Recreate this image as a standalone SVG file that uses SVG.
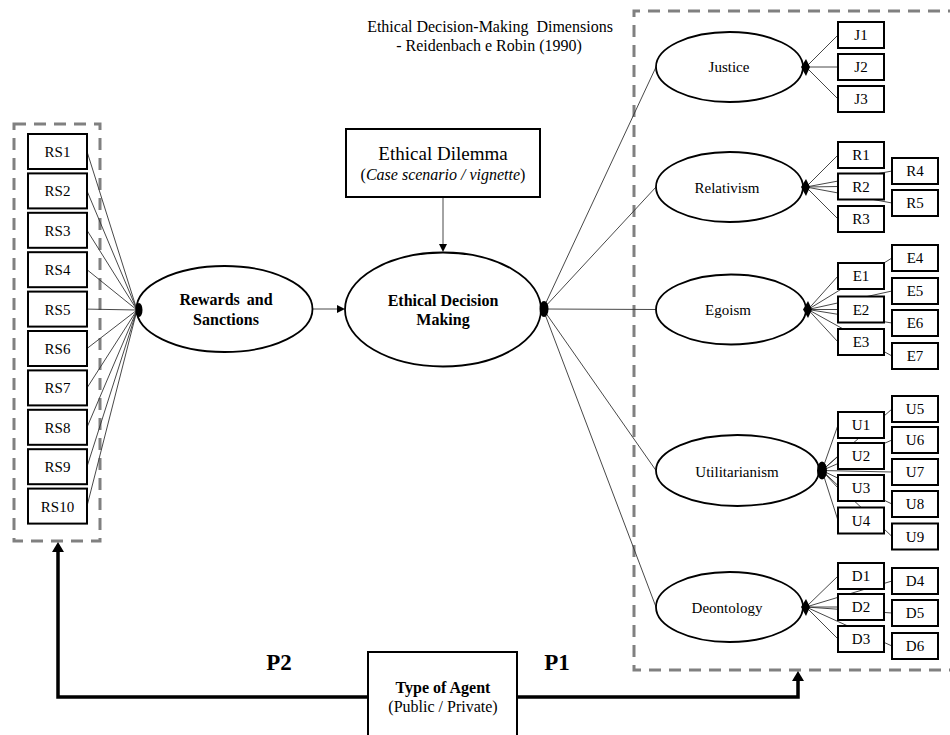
<svg xmlns="http://www.w3.org/2000/svg" width="950" height="735" viewBox="0 0 950 735" font-family="Liberation Serif, Tinos, Times New Roman, DejaVu Serif, serif">
<defs>
<style>
text{fill:#000}
.box{fill:#fff;stroke:#000;stroke-width:2}
.ell{fill:#fff;stroke:#000;stroke-width:1.8}
.thin{fill:none;stroke:#333;stroke-width:0.9}
.dash{fill:none;stroke:#808080;stroke-width:3;stroke-dasharray:12 8}
.thick{fill:none;stroke:#000;stroke-width:3.5}
.lbl{font-size:15px;text-anchor:middle}
.bl{font-size:16px;font-weight:bold;text-anchor:middle}
.dot{fill:#000}
</style>
<marker id="arr" viewBox="0 -4 8 8" refX="0" refY="0" markerWidth="8" markerHeight="8" markerUnits="userSpaceOnUse" orient="auto"><path d="M0,-4 L8,0 L0,4 z" fill="#000"/></marker>
<marker id="arrB" viewBox="0 -6 10 12" refX="0" refY="0" markerWidth="10" markerHeight="12" markerUnits="userSpaceOnUse" orient="auto"><path d="M0,-6 L10,0 L0,6 z" fill="#000"/></marker>
</defs>
<rect width="950" height="735" fill="#fff"/>

<g id="groups">
<rect class="dash" x="14" y="124" width="86" height="417"/>
<path class="dash" d="M960,11 H634 V670 H960"/>
</g>

<g id="connectors">
<path class="thin" d="M87,151.5 L137,310 M87,190.9 L137,310 M87,230.3 L137,310 M87,269.7 L137,310 M87,309.1 L137,310 M87,348.5 L137,310 M87,387.9 L137,310 M87,427.3 L137,310 M87,466.7 L137,310 M87,506.1 L137,310"/>
<path class="thin" d="M543,309 L656,67 M543,309 L656,187 M543,309 L656,309.5 M543,309 L656,470.5 M543,309 L656,607"/>
<path class="thin" d="M806,67 L838,35 M806,67 L838,67 M806,67 L838,99"/>
<path class="thin" d="M806,187 L838,155 M806,187 L838,186.5 M806,187 L838,219 M806,187 L892,171 M806,187 L892,203"/>
<path class="thin" d="M808,309.5 L838,276 M808,309.5 L838,309.5 M808,309.5 L838,342 M808,309.5 L892,258 M808,309.5 L892,291 M808,309.5 L892,323 M808,309.5 L892,356"/>
<path class="thin" d="M822,470.5 L838,425 M822,470.5 L838,456 M822,470.5 L838,488 M822,470.5 L838,520.5 M822,470.5 L892,409 M822,470.5 L892,440 M822,470.5 L892,472 M822,470.5 L892,504 M822,470.5 L892,536.5"/>
<path class="thin" d="M806,607 L838,576 M806,607 L838,607 M806,607 L838,639 M806,607 L892,581 M806,607 L892,613 M806,607 L892,646"/>
<path class="thin" stroke="#000" d="M313,309 H337" marker-end="url(#arr)"/>
<path class="thin" stroke="#000" d="M443,197 V244" marker-end="url(#arr)"/>
<path class="thick" d="M368,697 H58 V552" marker-end="url(#arrB)"/>
<path class="thick" d="M517,697 H798 V681" marker-end="url(#arrB)"/>
</g>

<g id="title">
<text x="490" y="32" style="font-size:16px;text-anchor:middle" xml:space="preserve">Ethical Decision-Making  Dimensions</text>
<text x="489" y="51" style="font-size:16px;text-anchor:middle">- Reidenbach e Robin (1990)</text>
</g>

<g id="rs-items">
<g id="RS1"><rect class="box" x="28" y="134" width="59" height="35"/><text class="lbl" x="57.5" y="157">RS1</text></g>
<g id="RS2"><rect class="box" x="28" y="173.4" width="59" height="35"/><text class="lbl" x="57.5" y="196.4">RS2</text></g>
<g id="RS3"><rect class="box" x="28" y="212.8" width="59" height="35"/><text class="lbl" x="57.5" y="235.8">RS3</text></g>
<g id="RS4"><rect class="box" x="28" y="252.2" width="59" height="35"/><text class="lbl" x="57.5" y="275.2">RS4</text></g>
<g id="RS5"><rect class="box" x="28" y="291.6" width="59" height="35"/><text class="lbl" x="57.5" y="314.6">RS5</text></g>
<g id="RS6"><rect class="box" x="28" y="331" width="59" height="35"/><text class="lbl" x="57.5" y="354">RS6</text></g>
<g id="RS7"><rect class="box" x="28" y="370.4" width="59" height="35"/><text class="lbl" x="57.5" y="393.4">RS7</text></g>
<g id="RS8"><rect class="box" x="28" y="409.8" width="59" height="35"/><text class="lbl" x="57.5" y="432.8">RS8</text></g>
<g id="RS9"><rect class="box" x="28" y="449.2" width="59" height="35"/><text class="lbl" x="57.5" y="472.2">RS9</text></g>
<g id="RS10"><rect class="box" x="28" y="488.6" width="59" height="35"/><text class="lbl" x="57.5" y="511.6">RS10</text></g>
</g>

<g id="rewards">
<ellipse class="ell" cx="224.5" cy="309" rx="88" ry="43"/>
<ellipse class="dot" cx="139" cy="310" rx="3.5" ry="7"/>
<text class="bl" x="226" y="305" word-spacing="3">Rewards and</text>
<text class="bl" x="226" y="325">Sanctions</text>
</g>

<g id="dilemma">
<rect class="box" x="346" y="129" width="194" height="68"/>
<text x="443" y="160" style="font-size:19px;text-anchor:middle">Ethical Dilemma</text>
<text x="443" y="180" style="font-size:16px;text-anchor:middle">(<tspan font-style="italic">Case scenario / vignette</tspan>)</text>
</g>

<g id="edm">
<ellipse class="ell" cx="443" cy="309.5" rx="98" ry="57"/>
<ellipse class="dot" cx="544" cy="309" rx="4.5" ry="8"/>
<text class="bl" x="443" y="306">Ethical Decision</text>
<text class="bl" x="443" y="325">Making</text>
</g>

<g id="justice">
<ellipse class="ell" cx="729.5" cy="67" rx="73.5" ry="35"/>
<polygon class="dot" points="801,67 806,59 810,67 806,76"/>
<text class="lbl" x="729" y="72">Justice</text>
<g id="J1"><rect class="box" x="838" y="22" width="46" height="26"/><text class="lbl" x="861" y="40">J1</text></g>
<g id="J2"><rect class="box" x="838" y="54" width="46" height="26"/><text class="lbl" x="861" y="72">J2</text></g>
<g id="J3"><rect class="box" x="838" y="86" width="46" height="26"/><text class="lbl" x="861" y="104">J3</text></g>
</g>

<g id="relativism">
<ellipse class="ell" cx="729.5" cy="187" rx="73.5" ry="35"/>
<polygon class="dot" points="801,187 806,179 810,187 806,196"/>
<text class="lbl" x="727" y="193">Relativism</text>
<g id="R1"><rect class="box" x="838" y="142" width="46" height="26"/><text class="lbl" x="861" y="160">R1</text></g>
<g id="R2"><rect class="box" x="838" y="173.5" width="46" height="26"/><text class="lbl" x="861" y="191.5">R2</text></g>
<g id="R3"><rect class="box" x="838" y="206" width="46" height="26"/><text class="lbl" x="861" y="224">R3</text></g>
<g id="R4"><rect class="box" x="892" y="158" width="46" height="26"/><text class="lbl" x="915" y="176">R4</text></g>
<g id="R5"><rect class="box" x="892" y="190" width="46" height="26"/><text class="lbl" x="915" y="208">R5</text></g>
</g>

<g id="egoism">
<ellipse class="ell" cx="731" cy="309.5" rx="75" ry="35"/>
<polygon class="dot" points="803,309.5 808,301 812,309.5 808,318"/>
<text class="lbl" x="728" y="315">Egoism</text>
<g id="E1"><rect class="box" x="838" y="263" width="46" height="26"/><text class="lbl" x="861" y="281">E1</text></g>
<g id="E2"><rect class="box" x="838" y="296.5" width="46" height="26"/><text class="lbl" x="861" y="314.5">E2</text></g>
<g id="E3"><rect class="box" x="838" y="329" width="46" height="26"/><text class="lbl" x="861" y="347">E3</text></g>
<g id="E4"><rect class="box" x="892" y="245" width="46" height="26"/><text class="lbl" x="915" y="263">E4</text></g>
<g id="E5"><rect class="box" x="892" y="278" width="46" height="26"/><text class="lbl" x="915" y="296">E5</text></g>
<g id="E6"><rect class="box" x="892" y="310" width="46" height="26"/><text class="lbl" x="915" y="328">E6</text></g>
<g id="E7"><rect class="box" x="892" y="343" width="46" height="26"/><text class="lbl" x="915" y="361">E7</text></g>
</g>

<g id="utilitarianism">
<ellipse class="ell" cx="737.5" cy="470.5" rx="81.5" ry="35.5"/>
<ellipse class="dot" cx="822" cy="470.5" rx="5" ry="9"/>
<text class="lbl" x="737" y="477">Utilitarianism</text>
<g id="U1"><rect class="box" x="838" y="412" width="46" height="26"/><text class="lbl" x="861" y="430">U1</text></g>
<g id="U2"><rect class="box" x="838" y="443" width="46" height="26"/><text class="lbl" x="861" y="461">U2</text></g>
<g id="U3"><rect class="box" x="838" y="475" width="46" height="26"/><text class="lbl" x="861" y="493">U3</text></g>
<g id="U4"><rect class="box" x="838" y="507.5" width="46" height="26"/><text class="lbl" x="861" y="525.5">U4</text></g>
<g id="U5"><rect class="box" x="892" y="396" width="46" height="26"/><text class="lbl" x="915" y="414">U5</text></g>
<g id="U6"><rect class="box" x="892" y="427" width="46" height="26"/><text class="lbl" x="915" y="445">U6</text></g>
<g id="U7"><rect class="box" x="892" y="459" width="46" height="26"/><text class="lbl" x="915" y="477">U7</text></g>
<g id="U8"><rect class="box" x="892" y="491" width="46" height="26"/><text class="lbl" x="915" y="509">U8</text></g>
<g id="U9"><rect class="box" x="892" y="523.5" width="46" height="26"/><text class="lbl" x="915" y="541.5">U9</text></g>
</g>

<g id="deontology">
<ellipse class="ell" cx="729.5" cy="607" rx="73.5" ry="35"/>
<polygon class="dot" points="801,607 806,599 810,607 806,616"/>
<text class="lbl" x="727" y="613">Deontology</text>
<g id="D1"><rect class="box" x="838" y="563" width="46" height="26"/><text class="lbl" x="861" y="581">D1</text></g>
<g id="D2"><rect class="box" x="838" y="594" width="46" height="26"/><text class="lbl" x="861" y="612">D2</text></g>
<g id="D3"><rect class="box" x="838" y="626" width="46" height="26"/><text class="lbl" x="861" y="644">D3</text></g>
<g id="D4"><rect class="box" x="892" y="568" width="46" height="26"/><text class="lbl" x="915" y="586">D4</text></g>
<g id="D5"><rect class="box" x="892" y="600" width="46" height="26"/><text class="lbl" x="915" y="618">D5</text></g>
<g id="D6"><rect class="box" x="892" y="633" width="46" height="26"/><text class="lbl" x="915" y="651">D6</text></g>
</g>

<g id="agent">
<rect class="box" x="368" y="652" width="149" height="100"/>
<text class="bl" x="443" y="693">Type of Agent</text>
<text x="443" y="712" style="font-size:16px;text-anchor:middle">(Public / Private)</text>
</g>

<g id="labels">
<text x="279" y="670" style="font-size:23px;font-weight:bold;text-anchor:middle">P2</text>
<text x="557" y="670" style="font-size:23px;font-weight:bold;text-anchor:middle">P1</text>
</g>
</svg>
